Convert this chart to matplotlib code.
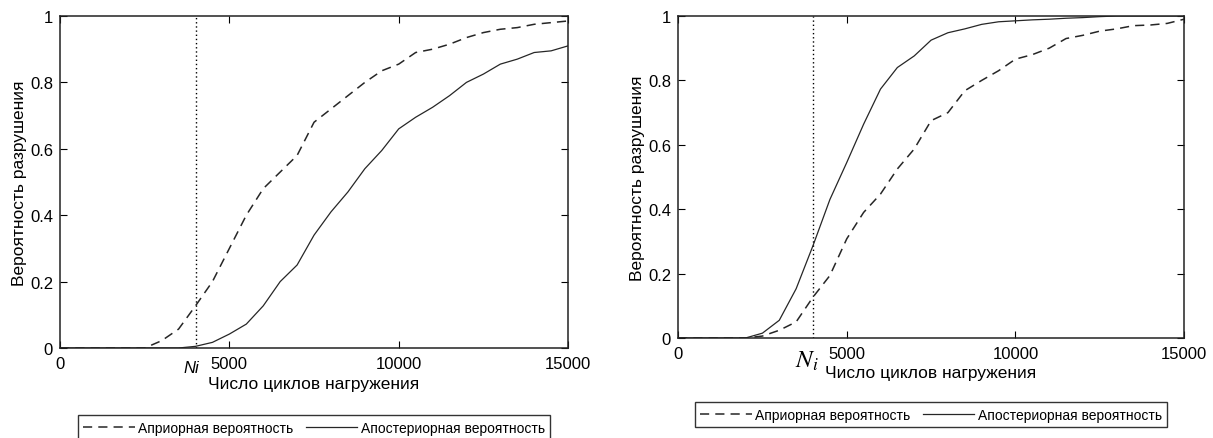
import matplotlib
matplotlib.use("Agg")
import matplotlib.pyplot as plt

plt.rcParams['font.family'] = ['Liberation Sans', 'DejaVu Sans']

# number of load cycles
cycles = [0, 1000, 2000, 2500, 3000, 3500, 4000, 4500, 5000, 5500, 6000, 6500, 7000,
          7500, 8000, 8500, 9000, 9500, 10000, 10500, 11000, 11500, 12000, 12500,
          13000, 13500, 14000, 14500, 15000]

# left chart
prior_left = [0, 0, 0, 0, 0.022, 0.057, 0.127, 0.20, 0.30, 0.40, 0.48, 0.53, 0.58,
              0.68, 0.72, 0.76, 0.80, 0.835, 0.855, 0.89, 0.90, 0.915, 0.935, 0.95,
              0.96, 0.965, 0.975, 0.98, 0.985]
post_left = [0, 0, 0, 0, 0, 0, 0.005, 0.017, 0.042, 0.072, 0.127, 0.20, 0.25,
             0.34, 0.41, 0.47, 0.54, 0.595, 0.66, 0.695, 0.725, 0.76, 0.80, 0.825,
             0.855, 0.87, 0.89, 0.895, 0.91]

# right chart
prior_right = [0, 0, 0, 0.006, 0.024, 0.05, 0.127, 0.194, 0.308, 0.39, 0.447, 0.525,
               0.587, 0.675, 0.70, 0.768, 0.80, 0.83, 0.866, 0.88, 0.90, 0.93, 0.94,
               0.953, 0.96, 0.97, 0.972, 0.977, 0.99]
post_right = [0, 0, 0, 0.015, 0.055, 0.153, 0.287, 0.43, 0.545, 0.664, 0.773, 0.84,
              0.876, 0.925, 0.948, 0.96, 0.974, 0.982, 0.985, 0.988, 0.99, 0.993,
              0.995, 0.998, 1.0, 1.0, 1.0, 1.0, 1.0]

n_i = 4000
x_ticks = [0, 5000, 10000, 15000]
y_ticks = [0, 0.2, 0.4, 0.6, 0.8, 1]
y_tick_labels = ['0', '0.2', '0.4', '0.6', '0.8', '1']
legend_labels = ['Априорная вероятность', 'Апостериорная вероятность']

fig = plt.figure(figsize=(12.13, 4.39), dpi=100)
ax1 = fig.add_axes([0.0495, 0.205, 0.4188, 0.7563])
ax2 = fig.add_axes([0.559, 0.2278, 0.4172, 0.7335])


def draw(ax, prior, post, ni_text, ni_x, ni_y, ni_kw, legend_y):
    line_color = '#262626'
    ax.plot(cycles, prior, linestyle=(0, (6, 4)), color=line_color, linewidth=1.1)
    ax.plot(cycles, post, linestyle='-', color=line_color, linewidth=0.9)
    ax.axvline(n_i, color='black', linestyle=(0, (1, 2)), linewidth=1.0)
    ax.set_xlim(0, 15000)
    ax.set_ylim(0, 1)
    ax.set_xticks(x_ticks)
    ax.set_xticklabels([str(t) for t in x_ticks])
    ax.set_yticks(y_ticks)
    ax.set_yticklabels(y_tick_labels)
    ax.tick_params(direction='in', top=True, right=True, length=5, labelsize=12)
    ax.tick_params(axis='x', pad=6)
    ax.tick_params(axis='y', pad=5)
    for s in ax.spines.values():
        s.set_linewidth(1.1)
        s.set_color('#222222')
    ax.set_xlabel('Число циклов нагружения', fontsize=12.5, labelpad=3)
    ax.set_ylabel('Вероятность разрушения', fontsize=12.5, labelpad=2)
    ax.text(ni_x, ni_y, ni_text, ha='right', va='top',
            transform=ax.get_xaxis_transform(), **ni_kw)
    leg = ax.legend(legend_labels, loc='upper center', bbox_to_anchor=(0.5, legend_y),
                    ncol=2, fontsize=10, frameon=True, fancybox=False,
                    handlelength=3.7, columnspacing=0.9, handletextpad=0.25,
                    borderpad=0.4, borderaxespad=0, edgecolor='black')
    leg.get_frame().set_linewidth(1.0)


draw(ax1, prior_left, post_left, 'Ni', 4120, -0.037,
     dict(fontsize=12, style='italic'), -0.202)
draw(ax2, prior_right, post_right, '$N_i$', 4180, -0.03,
     dict(fontsize=18, math_fontfamily='stix'), -0.199)

fig.savefig('out.png', dpi=100)
